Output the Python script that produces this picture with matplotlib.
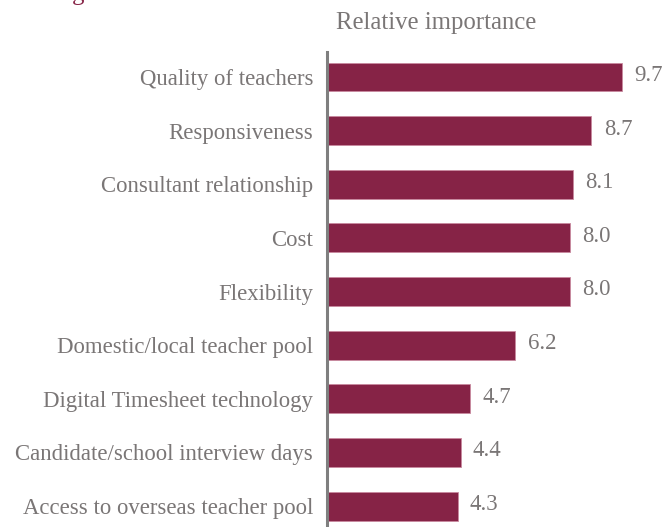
import matplotlib.pyplot as plt

factors = ['Quality of teachers', 'Responsiveness', 'Consultant relationship', 'Cost',
           'Flexibility', 'Domestic/local teacher pool', 'Digital Timesheet technology',
           'Candidate/school interview days', 'Access to overseas teacher pool']
importance = [9.7, 8.7, 8.1, 8.0, 8.0, 6.2, 4.7, 4.4, 4.3]

barColor = '#862346'
textColor = '#7a7676'
plt.rcParams['font.family'] = ['Liberation Serif', 'DejaVu Serif']

fig = plt.figure(figsize=(6.62, 5.27), dpi=100)
ax = fig.add_axes([327 / 662, 0.0, 1 - 327 / 662, 1 - 52 / 527])

pos = list(range(len(factors)))
ax.barh(pos, importance, height=0.54, color=barColor, edgecolor='#c98a9f', linewidth=0.6)
for p, v in zip(pos, importance):
    ax.text(v + 0.4, p - 0.03, '{0:.1f}'.format(v), va='center', ha='left',
            fontsize=16.4, color=textColor)

ax.set_xlim(0, 11.02)
ax.set_ylim(8.39, -0.466)
ax.set_yticks(pos)
ax.set_yticklabels(factors, fontsize=16.4, color=textColor)
ax.tick_params(axis='y', length=0, pad=10)
ax.set_xticks([])
for s in ['top', 'right', 'bottom']:
    ax.spines[s].set_visible(False)
ax.spines['left'].set_color('#7f7f7f')
ax.spines['left'].set_linewidth(2.2)

fig.text(336 / 662, 1 - 23 / 527, 'Relative importance', fontsize=17.8, color=textColor,
         ha='left', va='center')
# descender of the heading above
fig.text(72 / 662, 1 + 6 / 527, 'g', fontsize=18, color=barColor, ha='left', va='center')

fig.savefig('out.png', dpi=100)
